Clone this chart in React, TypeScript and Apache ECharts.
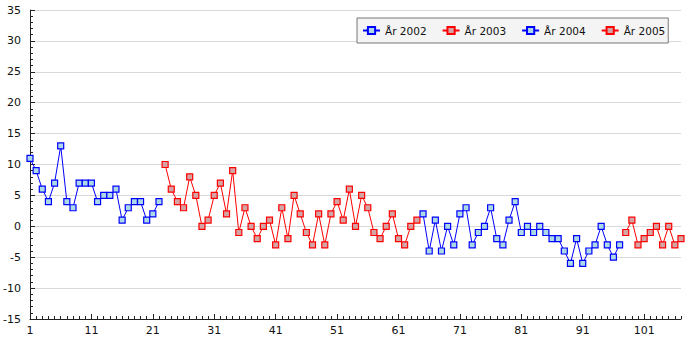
import React, { useEffect, useRef } from "react";
import * as echarts from "echarts";

const categories: string[] = Array.from({ length: 107 }, (_, i) => String(i + 1));

const seriesNames = ["År 2002", "År 2003", "År 2004", "År 2005"];
const seriesStarts = [0, 22, 64, 97];

const values2002 = [11, 9, 6, 4, 7, 13, 4, 3, 7, 7, 7, 4, 5, 5, 6, 1, 3, 4, 4, 1, 2, 4];
const values2003 = [
  10, 6, 4, 3, 8, 5, 0, 1, 5, 7, 2, 9, -1, 3, 0, -2, 0, 1, -3, 3, -2, 5, 2, -1, -3, 2, -3, 2, 4, 1,
  6, 0, 5, 3, -1, -2, 0, 2, -2, -3, 0, 1,
];
const values2004 = [
  2, -4, 1, -4, 0, -3, 2, 3, -3, -1, 0, 3, -2, -3, 1, 4, -1, 0, -1, 0, -1, -2, -2, -4, -6, -2, -6,
  -4, -3, 0, -3, -5, -3,
];
const values2005 = [-1, 1, -3, -2, -1, 0, -3, 0, -3, -2];

const allValues = [values2002, values2003, values2004, values2005];
const lineColors = ["#0000ff", "#ff0000", "#0000ff", "#ff0000"];
const fillColors = ["#add8e6", "#d4a4a4", "#add8e6", "#d4a4a4"];

export default function App() {
  const ref = useRef<HTMLDivElement>(null);
  useEffect(() => {
    if (!ref.current) return;
    const chart = echarts.init(ref.current, null, { renderer: "svg" });
    const font = "DejaVu Sans";
    const series = allValues.map((vals, s) => ({
      name: seriesNames[s],
      type: "line",
      xAxisIndex: 0,
      data: vals.map((v, i) => [seriesStarts[s] + i, v]),
      symbol: "rect",
      symbolSize: 6,
      showAllSymbol: true,
      lineStyle: { color: lineColors[s], width: 1 },
      itemStyle: { color: fillColors[s], borderColor: lineColors[s], borderWidth: 1.2 },
      emphasis: { disabled: true },
    }));
    chart.setOption({
      animation: false,
      textStyle: { fontFamily: font },
      grid: { left: 30, right: 19, top: 10, bottom: 31, containLabel: false },
      legend: {
        left: 357,
        top: 18,
        width: 320,
        padding: [7, 3, 7, 5],
        itemGap: 15,
        itemWidth: 17,
        itemHeight: 9,
        backgroundColor: "#f4f4f4",
        borderColor: "#777777",
        borderWidth: 1,
        borderRadius: 0,
        textStyle: { fontFamily: font, fontSize: 10.5, color: "#111" },
        data: seriesNames,
      },
      xAxis: [
        {
          type: "category",
          data: categories,
          boundaryGap: false,
          axisLine: { onZero: false, lineStyle: { color: "#222", width: 1 } },
          axisTick: {
            inside: true,
            length: 3,
            interval: 0,
            lineStyle: { color: "#222" },
          },
          axisLabel: {
            interval: (idx: number) => idx % 10 === 0,
            color: "#111",
            fontSize: 11,
            margin: 6,
            fontFamily: font,
          },
          splitLine: { show: false },
        },
        {
          type: "category",
          data: categories,
          boundaryGap: false,
          position: "bottom",
          axisLine: { show: false, onZero: false },
          axisTick: {
            inside: true,
            length: 5,
            interval: (idx: number) => idx % 10 === 0,
            lineStyle: { color: "#222" },
          },
          axisLabel: { show: false },
          splitLine: { show: false },
        },
      ],
      yAxis: {
        type: "value",
        min: -15,
        max: 35,
        interval: 5,
        axisLine: { show: true, lineStyle: { color: "#222", width: 1 } },
        axisTick: { show: true, inside: true, length: 5, lineStyle: { color: "#222" } },
        minorTick: { show: true, splitNumber: 5, length: 3, lineStyle: { color: "#222" } },
        axisLabel: { color: "#111", fontSize: 11, margin: 9, fontFamily: font },
        splitLine: { show: true, lineStyle: { color: "#d9d9d9", width: 1 } },
      },
      series,
    });
    return () => chart.dispose();
  }, []);
  return (
    <div
      ref={ref}
      style={{ position: "fixed", left: 0, top: 0, width: 700, height: 350, background: "#fff" }}
    />
  );
}
